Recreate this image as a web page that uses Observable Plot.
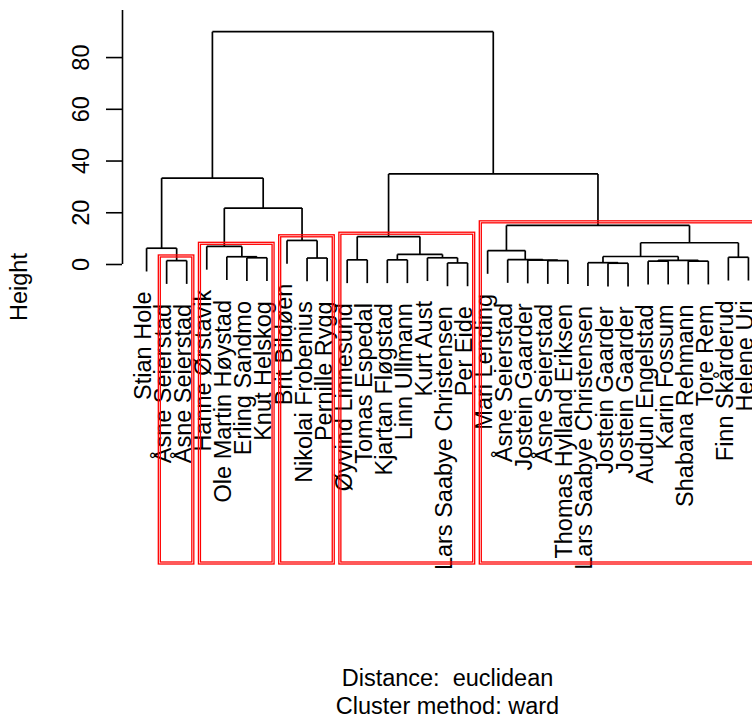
<!DOCTYPE html>
<html><head><meta charset="utf-8">
<script src="https://cdn.jsdelivr.net/npm/d3@7"></script>
<script src="https://cdn.jsdelivr.net/npm/@observablehq/plot@0.6"></script>
<style>
html,body{margin:0;padding:0;background:#fff;overflow:hidden;}
svg text{white-space:pre;}
</style></head><body><div id="chart"></div>
<script>
// Leaves in dendrogram order
const leafLabels = [
  "Stian Hole","Åsne Seierstad","Åsne Seierstad","Hanne Ørstavik","Ole Martin Høystad",
  "Erling Sandmo","Knut Helskog","Brit Bildøen","Nikolai Frobenius","Pernille Rygg",
  "Øyvind Linnesund","Tomas Espedal","Kjartan Fløgstad","Linn Ullmann","Kurt Aust",
  "Lars Saabye Christensen","Per Eide","Mari Lending","Åsne Seierstad","Jostein Gaarder",
  "Åsne Seierstad","Thomas Hylland Eriksen","Lars Saabye Christensen","Jostein Gaarder","Jostein Gaarder",
  "Audun Engelstad","Karin Fossum","Shabana Rehmann","Tore Rem","Finn Skårderud","Helene Uri"
];
// Merge table (R hclust style): negative = leaf position, positive = earlier merge number
const mergeLeft   = [-2, -1, -6, -5, -4, -9, -8, 5, 2, -11, -13, -16, -15, 11, 10, -21, -20, -19, -18, -24, -23, -26, -28, 22, 21, -30, 25, 19, 15, 9];
const mergeRight  = [-3, 1, -7, 3, 4, -10, 6, 7, 8, -12, -14, -17, 12, 13, 14, -22, 16, 17, 18, -25, 20, -27, -29, 23, 24, -31, 26, 27, 28, 29];
const mergeHeight = [1.5, 6.3, 2.6, 3.0, 7.0, 2.5, 9.3, 21.8, 33.4, 1.8, 1.8, 0.6, 2.6, 3.9, 10.8, 1.5, 1.7, 1.9, 5.4, 0.5, 0.7, 1.3, 1.3, 1.6, 3.1, 2.8, 8.4, 15.1, 35.0, 90.0];
const yTicks = [0, 20, 40, 60, 80];
// Red cluster rectangles
const clusterFirst = [2, 4, 8, 11, 18];
const clusterLast  = [3, 7, 10, 17, 31];
const clusterTop   = [3.1, 8.0, 10.9, 11.9, 16.3];
const hang = 9;
const yBottom = -115.6, yTop = 98.2;
const subLines = ["Distance:  euclidean", "Cluster method: ward"];
const yLabel = "Height";

const n = leafLabels.length;
const ext = 0.04 * (n - 1);
const xmin = 1 - ext, xmax = n + ext;
const xCenter = (xmin + xmax) / 2;

const pos = [];
const segments = [];
const leafEnd = new Array(n + 1);
for (let i = 0; i < mergeHeight.length; i++) {
  const h = mergeHeight[i];
  const kids = [mergeLeft[i], mergeRight[i]].map(ref => {
    if (ref < 0) { leafEnd[-ref] = h - hang; return {x: -ref, h: h - hang}; }
    return pos[ref - 1];
  });
  const [l, r] = kids;
  pos[i] = {x: (l.x + r.x) / 2, h};
  segments.push({x1: l.x, y1: l.h, x2: l.x, y2: h});
  segments.push({x1: r.x, y1: r.h, x2: r.x, y2: h});
  segments.push({x1: l.x, y1: h, x2: r.x, y2: h});
}
const leaves = leafLabels.map((name, i) => ({name, x: i + 1, y: leafEnd[i + 1]}));
const boxes = clusterFirst.map((f, i) => ({x1: f - 0.34, x2: clusterLast[i] + 0.33, y1: yBottom, y2: clusterTop[i]}));

const font = "'Liberation Sans', Arial, Helvetica, sans-serif";
const fs = 23.5;
const chart = Plot.plot({
  width: 752, height: 717,
  marginLeft: 122, marginRight: -20, marginTop: 10, marginBottom: 154,
  x: {domain: [xmin, xmax], axis: null},
  y: {domain: [yBottom, yTop], axis: null},
  style: {fontFamily: font, fontSize: fs + "px", color: "black", background: "white"},
  marks: [
    Plot.ruleX([xmin], {y1: 0, y2: yTop, stroke: "black", strokeWidth: 1.6}),
    Plot.axisY({ticks: yTicks, tickSize: 16, tickRotate: -90, tickPadding: 18, fontSize: fs, anchor: "left", label: null, stroke: "black", strokeWidth: 1.6, fill: "black"}),
    Plot.link(segments, {x1: "x1", y1: "y1", x2: "x2", y2: "y2", stroke: "#000", strokeWidth: 1.7}),
    Plot.text(leaves, {x: "x", y: "y", text: "name", rotate: -90, textAnchor: "end", dy: 20, dx: -3, fontSize: fs, fill: "black"}),
    Plot.rect(boxes, {x1: "x1", x2: "x2", y1: "y1", y2: "y2", fill: "none", stroke: "#ff0000", strokeWidth: 1.3, inset: -1}),
    Plot.rect(boxes, {x1: "x1", x2: "x2", y1: "y1", y2: "y2", fill: "none", stroke: "#ff0000", strokeWidth: 1.3, inset: 1}),
    Plot.text([yLabel], {frameAnchor: "left", rotate: -90, textAnchor: "middle", lineAnchor: "bottom", dx: -96, fontSize: fs, fill: "black"}),
    Plot.text([subLines[0]], {x: [xCenter], frameAnchor: "bottom", lineAnchor: "bottom", dy: 122, fontSize: fs, fill: "black"}),
    Plot.text([subLines[1]], {x: [xCenter], frameAnchor: "bottom", lineAnchor: "bottom", dy: 150, fontSize: fs, fill: "black"})
  ]
});
document.getElementById("chart").appendChild(chart);
</script></body></html>
